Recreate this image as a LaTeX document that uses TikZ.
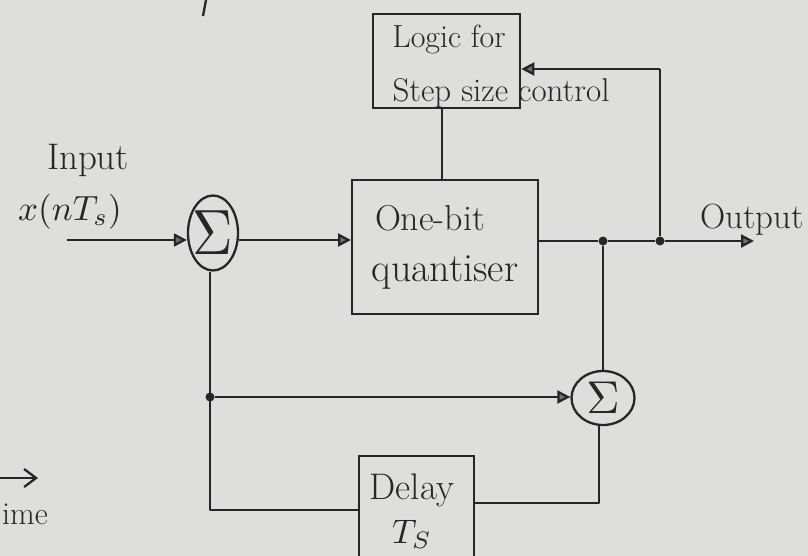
\documentclass[tikz,border=0pt]{standalone}
\usetikzlibrary{arrows.meta,shapes.geometric}
\definecolor{paper}{RGB}{222,222,220}
\definecolor{ink}{RGB}{38,38,40}
\tikzset{
  wire/.style={draw=ink, line width=2.3pt, line join=round},
  sig/.style={wire, -{Triangle[length=13pt,width=13pt,fill=ink!65]}},
  blk/.style={draw=ink, line width=2.3pt},
  lab/.style={text=ink, inner sep=0pt, font=\fontsize{32}{36}\selectfont},
  mlab/.style={text=ink, inner sep=0pt},
  summer/.style={draw=ink, line width=2.3pt, ellipse, inner sep=0pt},
  junc/.style={circle, fill=ink, inner sep=0pt, minimum size=9pt},
}
\begin{document}
\begin{tikzpicture}[x=1pt, y=-1pt]
  % paper sheet
  \fill[paper] (0,0) rectangle (808,556);
  \useasboundingbox (0,0) rectangle (808,556);

  % blocks
  \node[blk, minimum width=147pt, minimum height=94pt, anchor=north west] (logic) at (372,13) {};
  \node[blk, minimum width=186pt, minimum height=134pt, anchor=north west] (quant) at (351,179) {};
  \node[blk, minimum width=115pt, minimum height=120pt, anchor=north west] (delay) at (358,455) {};

  % summing junctions
  \node[summer, minimum width=50pt, minimum height=75pt] (s1) at (213,233) {};
  \node[summer, minimum width=63pt, minimum height=54pt] (s2) at (603,398) {};
  \node[mlab] (sg1) at (s1.center) {\scalebox{5.6}[6.4]{$\Sigma$}};
  \node[mlab] (sg2) at (s2.center) {\scalebox{4.6}{$\Sigma$}};

  % texts
  \node[lab] (tlogic) at (449,40) {Logic for};
  \node[lab, font=\fontsize{33}{36}\selectfont] (tstep) at (501,93) {Step size control};
  \node[lab, font=\fontsize{36}{40}\selectfont] (tone) at (430,218) {One-bit};
  \node[lab, font=\fontsize{40}{44}\selectfont] (tquant) at (445,272) {quantiser};
  \node[lab, font=\fontsize{37}{40}\selectfont] (tdelay) at (412,490) {Delay};
  \node[mlab] (tts) at (412,534) {\scalebox{3.4}{$T_S$}};
  \node[lab, font=\fontsize{37}{40}\selectfont] (tin) at (88,160) {Input};
  \node[mlab] (tx) at (70,212) {\scalebox{3.5}{$x(nT_s)$}};
  \node[lab, font=\fontsize{35}{38}\selectfont] (tout) at (752,220) {Output};
  \node[lab, anchor=west] (ttime) at (2,514) {ime};

  % junction points
  \coordinate (inp) at (67,240);
  \node[junc] (j1) at (603,241) {};
  \node[junc] (j2) at (660,241) {};
  \node[junc] (j3) at (210,397) {};
  \coordinate (out) at (754,241);
  \coordinate (fbtop) at (660,69);
  \coordinate (dl) at (210,510);
  \coordinate (dr) at (599,503);

  % forward path
  \draw[sig] (inp) -- (inp -| s1.west);
  \draw[sig] (s1.east |- 0,240) -- (quant.west |- 0,240);
  \draw[sig] (quant.east |- j1) -- (j1) -- (j2) -- (out);

  % step size control loop
  \draw[wire] (j2) -- (fbtop);
  \draw[sig] (fbtop) -- (logic.east |- fbtop);
  \draw[wire] (logic.south -| 442,0) -- (quant.north -| 442,0);

  % accumulator loop
  \draw[wire] (j1) -- (s2.north -| j1);
  \draw[wire] (s1.south -| dl) -- (dl) -- (delay.west |- dl);
  \draw[sig] (j3) -- (s2.west |- j3);
  \draw[wire] (s2.south -| dr) -- (dr) -- (delay.east |- dr);

  % marks at the sheet edges
  \coordinate (tma) at (-6,478);
  \coordinate (tmb) at (38,478);
  \draw[wire, -{Straight Barb[length=12pt,width=18pt]}] (tma) -- (tmb);
  \coordinate (sta) at (206,0);
  \coordinate (stb) at (203,16);
  \draw[wire] (sta) -- (stb);
\end{tikzpicture}
\end{document}
